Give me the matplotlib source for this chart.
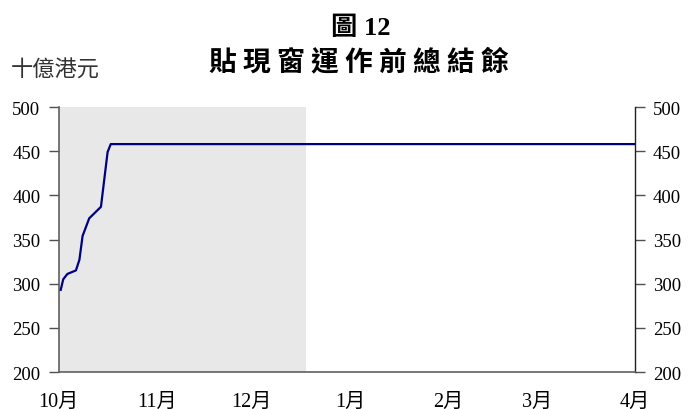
import numpy as np
import matplotlib
matplotlib.use("Agg")
from matplotlib import pyplot as plt

# jours depuis le 1er octobre
jours = [0.7, 1.5, 2.8, 5.5, 6.6, 7.6, 9.7, 13.4, 15.5, 16.5, 182]
solde = [293, 305, 311, 315, 327, 354, 374, 387, 449, 458, 458]

mois_pos = [0, 31, 61, 92, 123, 151, 182]
mois_lab = ["10月", "11月", "12月", "1月", "2月", "3月", "4月"]
fin_zone = 78

polices = ["Liberation Serif", "Noto Sans CJK TC"]
plt.rcParams['font.family'] = polices

fig = plt.figure(figsize=(6.88, 4.10), dpi=100)
ax = fig.add_axes([58.5/688, 37/410, 576.5/688, 265/410])

ax.axvspan(0, fin_zone, color="#e8e8e8", zorder=0, lw=0)
ax.plot(jours, solde, color="#000080", lw=1.6, zorder=3)

ax.set_xlim(0, 182)
ax.set_ylim(200, 500)
ax.set_yticks(np.arange(200, 501, 50))
ax.set_xticks(mois_pos)
ax.set_xticklabels(mois_lab)
ax.tick_params(axis="x", length=0, pad=14, labelsize=14.5)
ax.tick_params(axis="y", which="both", direction="out", labelsize=13.5,
               left=True, right=True, labelleft=True, labelright=True)
ax.tick_params(axis="y", which="major", left=True, length=7, width=1, color="#505050", pad=6)
for t in ax.yaxis.get_major_ticks():
    t.tick2line.set_markersize(5)
    t.tick2line.set_color("#202020")
ax.yaxis.set_tick_params(pad=6)

for cote in ["left", "bottom"]:
    ax.spines[cote].set_color("#606060")
    ax.spines[cote].set_linewidth(1.2)
ax.spines["right"].set_color("#202020")
ax.spines["right"].set_linewidth(1.0)
ax.spines["top"].set_visible(False)

fig.text(0.525, 0.932, "圖 12", ha="center", va="center", fontsize=19, fontweight="bold")
fig.text(0.522, 0.848, "貼 現 窗 運 作 前 總 結 餘", ha="center", va="center",
         fontsize=20, fontweight="bold", family=["Noto Sans CJK TC"])
fig.text(0.016, 0.826, "十億港元", ha="left", va="center", fontsize=16, color="#333333")

fig.savefig("out.png", dpi=100)
